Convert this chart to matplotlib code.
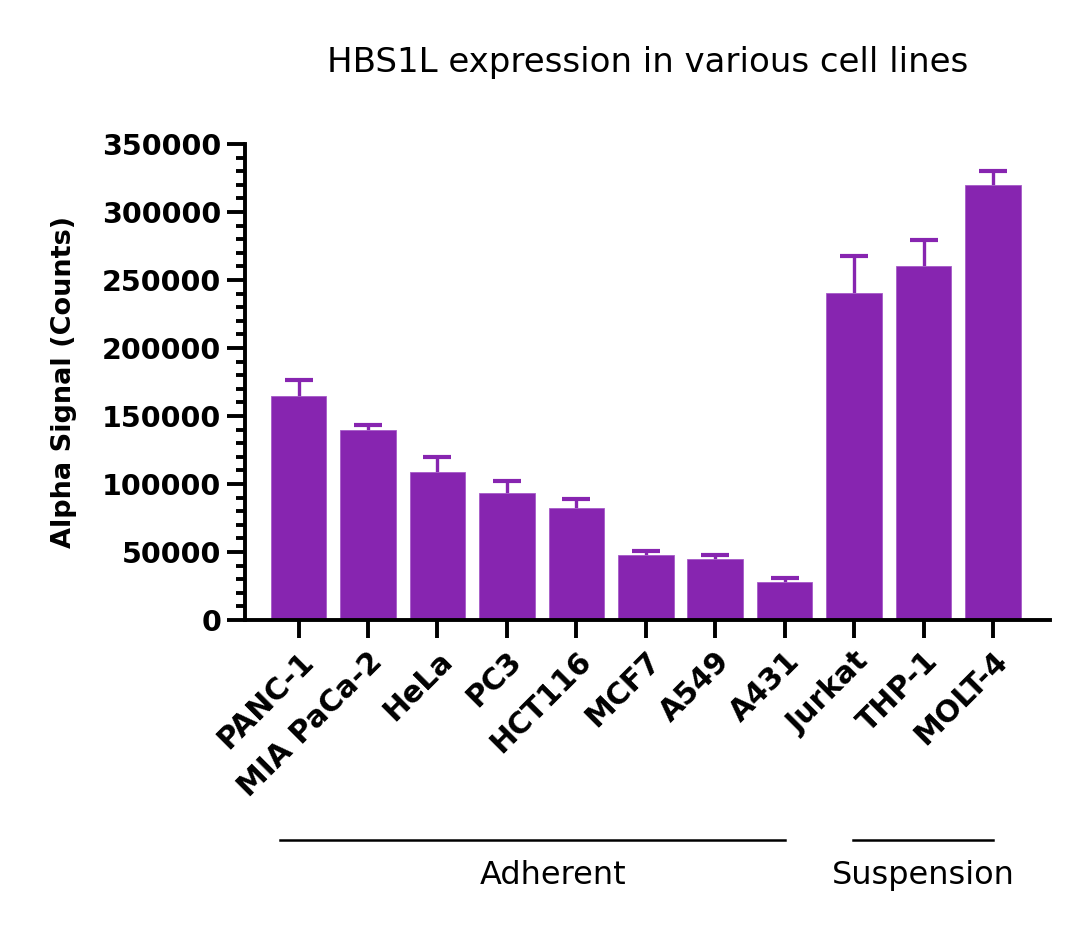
import numpy as np
import matplotlib
matplotlib.use("Agg")
import matplotlib.pyplot as plt
from matplotlib.ticker import MultipleLocator
from matplotlib.transforms import blended_transform_factory

# values
cell_lines = ['PANC-1', 'MIA PaCa-2', 'HeLa', 'PC3', 'HCT116', 'MCF7',
              'A549', 'A431', 'Jurkat', 'THP-1', 'MOLT-4']
signal = [164500, 139500, 109000, 93500, 82500, 47500, 45000, 28000, 240500, 260000, 320000]
err_up = [12000, 3500, 11000, 9000, 6500, 3000, 3000, 3000, 27000, 19500, 10500]

groups = ['Adherent', 'Suspension']
group_span = [(-0.27, 7.0), (7.98, 10.0)]
group_text_x = [3.67, 9.0]

purple = '#8725B0'
plt.rcParams['font.family'] = ['DejaVu Sans']

fig = plt.figure(figsize=(10.8, 9.32), dpi=100)
ax = fig.add_axes([0.2269, 0.3348, 0.9722 - 0.2269, 0.8455 - 0.3348])

x = np.arange(len(cell_lines))
ax.bar(x, signal, width=0.8, color=purple, edgecolor='#A65BC8', linewidth=0.6, zorder=2)
_, caps, _ = ax.errorbar(x, signal, yerr=[np.zeros(len(err_up)), err_up], fmt='none',
                         ecolor=purple, elinewidth=2.4, capsize=10, capthick=3, zorder=1)
# only the upper cap is shown
caps[0].set_visible(False)

ax.set_xlim(-0.77, 10.82)
ax.set_ylim(0, 350000)
ax.yaxis.set_major_locator(MultipleLocator(50000))
ax.yaxis.set_minor_locator(MultipleLocator(10000))

ax.set_xticks(x)
ax.set_xticklabels(cell_lines, rotation=45, ha='right', rotation_mode='anchor',
                   fontsize=21.5, fontweight='bold')
for lbl in ax.get_yticklabels():
    lbl.set_fontweight('bold')
ax.tick_params(axis='y', labelsize=20.5, width=2.8, length=13, pad=4)
ax.tick_params(axis='y', which='minor', width=2.8, length=6.5)
ax.tick_params(axis='x', width=2.8, length=13, pad=6)

for s in ['top', 'right']:
    ax.spines[s].set_visible(False)
for s in ['left', 'bottom']:
    ax.spines[s].set_linewidth(2.8)

ax.set_ylabel('Alpha Signal (Counts)', fontsize=19.5, fontweight='bold', labelpad=18)
ax.set_title('HBS1L expression in various cell lines', fontsize=24.5, pad=52)

trans = blended_transform_factory(ax.transData, ax.transAxes)
for name, (x0, x1), tx in zip(groups, group_span, group_text_x):
    ax.plot([x0, x1], [-0.462, -0.462], color='black', linewidth=1.8,
            transform=trans, clip_on=False)
    ax.text(tx, -0.536, name, transform=trans, ha='center', va='center', fontsize=23)

fig.savefig('out.png', dpi=100)
